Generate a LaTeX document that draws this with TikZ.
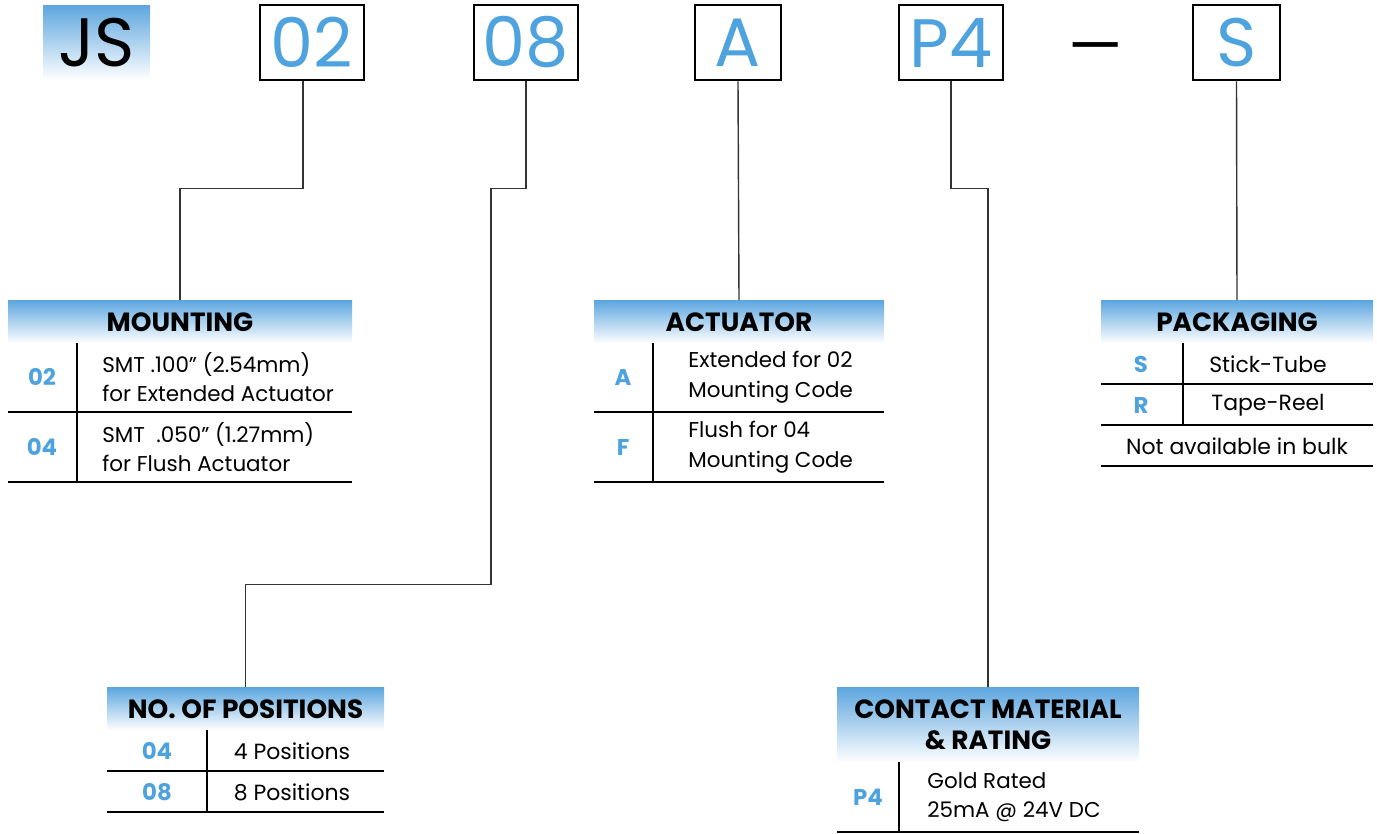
\documentclass[tikz,border=0pt]{standalone}
\usepackage{fontspec}
\setmainfont{Poppins}
\usetikzlibrary{calc,positioning}
\definecolor{codeblue}{HTML}{4EA3DE}
\definecolor{hdrblue}{HTML}{5DA6DF}
\newcommand\px{0.02cm}

\tikzset{
  codebox/.style={draw, line width=1.6pt, minimum width=104*\px, minimum height=75*\px, inner sep=0pt, text=codeblue, font=\fontsize{39}{40}\selectfont},
  hdr/.style={top color=hdrblue, bottom color=white, anchor=north, inner sep=0pt, align=center, font=\bfseries\fontsize{15}{18}\selectfont},
  conn/.style={draw=black!80, line width=0.8pt},
  rule/.style={line width=0.8pt},
  code/.style={text=codeblue, font=\bfseries\fontsize{13}{15}\selectfont},
  desc/.style={align=left, anchor=west, inner sep=0pt, font=\fontsize{12.2}{16.8}\selectfont},
  cell/.style={inner sep=0pt, font=\fontsize{12.5}{16.5}\selectfont},
}

\begin{document}
\begin{tikzpicture}[x=\px, y=-\px]
\useasboundingbox (0,0) rectangle (1377,833);

% part number
\node[top color=hdrblue, bottom color=white, minimum width=107*\px, minimum height=75*\px, inner sep=0pt, font=\fontsize{39}{40}\selectfont] (js) at (96.5,42.5) {JS};
\node[codebox] (c02) at (312,42.5) {02};
\node[codebox] (c08) at (526,42.5) {08};
\node[codebox, minimum width=86*\px] (cA) at (738,42.5) {A};
\node[codebox] (cP4) at (951,42.5) {P4};
\node[font=\fontsize{35}{36}\selectfont] (dash) at (1096,55) {—};
\node[codebox, minimum width=87*\px] (cS) at (1236.5,42.5) {S};

% headers
\node[hdr, minimum width=344*\px, minimum height=43*\px] (mount) at (180,300) {MOUNTING};
\node[hdr, minimum width=290*\px, minimum height=43*\px] (act) at (739,300) {ACTUATOR};
\node[hdr, minimum width=272*\px, minimum height=43*\px] (pack) at (1237,300) {PACKAGING};
\node[hdr, minimum width=277*\px, minimum height=43*\px] (pos) at (245.5,687) {NO.\ OF POSITIONS};
\node[hdr, minimum width=302*\px, minimum height=75*\px] (cont) at (988,687) {CONTACT MATERIAL\\\& RATING};

% connectors
\draw[conn] ($(c02.south)+(-9,0)$) -- ++(0,107) -| (mount.north);
\draw[conn] (c08.south) -- ++(0,107) -- ++(-35,0) -- ++(0,396) -| (pos.north);
\draw[conn] (cA.south) -- (act.north);
\draw[conn] (cP4.south) -- ++(0,107) -| (cont.north);
\draw[conn] (cS.south) -- (pack.north);

% mounting
\draw[rule] (8,412) -- (352,412) (8,482) -- (352,482) (77,343) -- (77,482);
\node[code] at (42,377) {02};
\node[code] at (42,447) {04};
\node[desc] at (102,377) {SMT .100” (2.54mm)\\for Extended Actuator};
\node[desc] at (102,447) {SMT\ \ .050” (1.27mm)\\for Flush Actuator};

% actuator
\draw[rule] (594,412) -- (884,412) (594,482) -- (884,482) (653,343) -- (653,482);
\node[code] at (623,377) {A};
\node[code] at (623,447) {F};
\node[desc] at (688,377) {Extended for 02\\Mounting Code};
\node[desc] at (688,447) {Flush for 04\\Mounting Code};

% packaging
\draw[rule] (1101,384) -- (1373,384) (1101,425) -- (1373,425) (1101,466) -- (1373,466) (1183,343) -- (1183,425);
\node[code] at (1141,364) {S};
\node[code] at (1141,405) {R};
\node[cell] at (1268,364) {Stick-Tube};
\node[cell] at (1268,405) {Tape-Reel};
\node[cell] at (1237,446) {Not available in bulk};

% positions
\draw[rule] (107,771) -- (384,771) (107,812) -- (384,812) (207,730) -- (207,812);
\node[code] at (157,751) {04};
\node[code] at (157,792) {08};
\node[cell] at (292,751) {4 Positions};
\node[cell] at (292,792) {8 Positions};

% contact
\draw[rule] (837,832) -- (1139,832) (899,762) -- (899,832);
\node[code] at (868,797) {P4};
\node[desc] at (927,797) {Gold Rated\\25mA @ 24V DC};

\end{tikzpicture}
\end{document}
